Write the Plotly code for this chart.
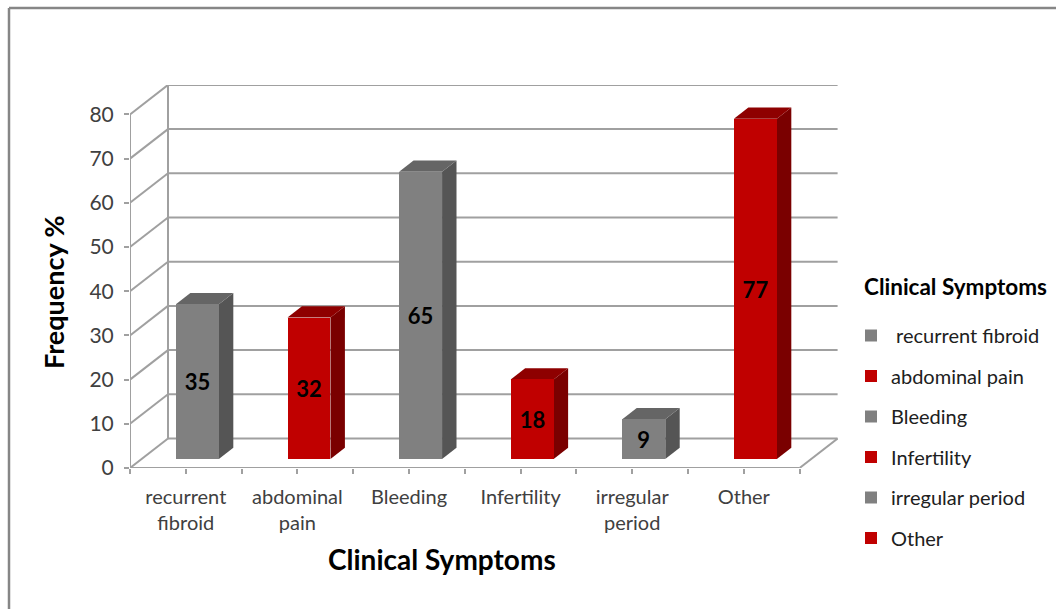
import plotly.graph_objects as go

# ---- data ----
categories = ["recurrent fibroid", "abdominal pain", "Bleeding", "Infertility",
              "irregular period", "Other"]
legend_names = [" recurrent fibroid", "abdominal pain", "Bleeding", "Infertility",
                "irregular period", "Other"]
tick_labels = ["recurrent<br>fibroid", "abdominal<br>pain", "Bleeding", "Infertility",
               "irregular<br>period", "Other"]
frequency = [35, 32, 65, 18, 9, 77]
y_ticks = [0, 10, 20, 30, 40, 50, 60, 70, 80]

# ---- styling ----
GRAY = dict(front="#808080", side="#555555", top="#656565")
RED = dict(front="#C00000", side="#7A0000", top="#8E0000")
palette = [GRAY, RED, GRAY, RED, GRAY, RED]
GRID = "#A0A0A0"
FONT = "Lato"

W, H = 1056, 609
ML, MR, MT, MB = 130, 218, 85, 141
PW, PH = W - ML - MR, H - MT - MB

CELL_PX = 111.6          # pixels per category
UNIT_PX = 4.42           # pixels per value unit
DEPTH_X, DEPTH_Y = 38.0, 29.5   # oblique depth of the chart box in pixels
DXu, DYu = DEPTH_X / CELL_PX, DEPTH_Y / UNIT_PX
X0 = -0.5
X_MAX = X0 + PW / CELL_PX
Y_MAX = PH / UNIT_PX

BAR_PLANE = 0.305        # depth fraction where bar fronts sit
BAR_DEPTH = 0.38         # bar depth as fraction of box depth
BAR_W = 0.385


def px_x(px):
    return (px - ML) / PW


def px_y(py):
    return (H - MB - py) / PH


fig = go.Figure()
shapes = []
line_style = dict(color=GRID, width=2)

# back wall horizontal gridlines and left wall diagonals
n_cat = len(categories)
for v in y_ticks:
    shapes.append(dict(type="line", xref="x", yref="y", layer="below",
                       x0=X0 + DXu, y0=v + DYu, x1=X0 + n_cat + DXu, y1=v + DYu,
                       line=line_style))
    shapes.append(dict(type="line", xref="x", yref="y", layer="below",
                       x0=X0, y0=v, x1=X0 + DXu, y1=v + DYu, line=line_style))
# back-left vertical edge
shapes.append(dict(type="line", xref="x", yref="y", layer="below",
                   x0=X0 + DXu, y0=DYu, x1=X0 + DXu, y1=y_ticks[-1] + DYu,
                   line=line_style))
# front vertical axis line
shapes.append(dict(type="line", xref="x", yref="y", layer="below",
                   x0=X0, y0=0, x1=X0, y1=y_ticks[-1], line=line_style))
# floor front edge and right edge
shapes.append(dict(type="line", xref="x", yref="y", layer="below",
                   x0=X0, y0=0, x1=X0 + n_cat, y1=0, line=line_style))
shapes.append(dict(type="line", xref="x", yref="y", layer="below",
                   x0=X0 + n_cat, y0=0, x1=X0 + n_cat + DXu, y1=DYu,
                   line=line_style))

# bar positions on their depth plane
bx_shift = BAR_PLANE * DXu
base = BAR_PLANE * DYu
ddx, ddy = BAR_DEPTH * DXu, BAR_DEPTH * DYu

for i, (name, val, col) in enumerate(zip(legend_names, frequency, palette)):
    xc = i + bx_shift
    xl, xr = xc - BAR_W / 2, xc + BAR_W / 2
    top = base + val
    # side face
    shapes.append(dict(type="path", xref="x", yref="y", layer="below",
                       path=f"M{xr},{base} L{xr + ddx},{base + ddy} "
                            f"L{xr + ddx},{top + ddy} L{xr},{top} Z",
                       fillcolor=col["side"], line=dict(width=0)))
    # top face
    shapes.append(dict(type="path", xref="x", yref="y", layer="below",
                       path=f"M{xl},{top} L{xr},{top} L{xr + ddx},{top + ddy} "
                            f"L{xl + ddx},{top + ddy} Z",
                       fillcolor=col["top"], line=dict(width=0)))
    fig.add_trace(go.Bar(
        x=[xc], y=[val], base=[base], width=[BAR_W], name=name,
        legendgroup=name,
        marker=dict(color=col["front"], line=dict(width=0)),
        text=[str(val)], textposition="inside", insidetextanchor="middle",
        textangle=0, constraintext="none",
        textfont=dict(family=FONT, size=22, color="black", weight="bold"),
        hovertemplate=f"{categories[i]}: %{{y}}<extra></extra>",
    ))

# outer frame of the chart area
shapes.append(dict(type="line", xref="paper", yref="paper",
                   x0=px_x(9), y0=px_y(8), x1=px_x(W + 5), y1=px_y(8),
                   line=dict(color="#868686", width=2.5)))
shapes.append(dict(type="line", xref="paper", yref="paper",
                   x0=px_x(9), y0=px_y(8), x1=px_x(9), y1=px_y(H + 5),
                   line=dict(color="#868686", width=2.5)))

annotations = [
    dict(text="<b>Frequency %</b>", textangle=-90, xref="paper", yref="paper",
         x=px_x(53), y=px_y(292), xanchor="center", yanchor="middle",
         showarrow=False, font=dict(family=FONT, size=27, color="black")),
    dict(text="<b>Clinical Symptoms</b>", xref="paper", yref="paper",
         x=px_x(442), y=px_y(559), xanchor="center", yanchor="middle",
         showarrow=False, font=dict(family=FONT, size=28, color="black")),
    dict(text="<b>Clinical Symptoms</b>", xref="paper", yref="paper",
         x=px_x(862), y=px_y(286), xanchor="left", yanchor="middle",
         showarrow=False, font=dict(family=FONT, size=22.5, color="black")),
]

fig.update_layout(
    width=W, height=H,
    margin=dict(l=ML, r=MR, t=MT, b=MB, pad=0, autoexpand=False),
    paper_bgcolor="white", plot_bgcolor="rgba(0,0,0,0)",
    shapes=shapes, annotations=annotations,
    bargap=0, barmode="overlay",
    showlegend=True,
    legend=dict(x=px_x(851), y=px_y(316), xanchor="left", yanchor="top",
                font=dict(family=FONT, size=20, color="#202020"),
                tracegroupgap=11.5, itemwidth=30,
                bgcolor="rgba(0,0,0,0)"),
    font=dict(family=FONT, color="#404040"),
)
fig.update_xaxes(
    range=[X0, X_MAX], showgrid=False, zeroline=False, showline=False,
    tickmode="array", tickvals=list(range(n_cat)), ticktext=tick_labels,
    ticks="outside", ticklen=5, tickcolor=GRID, tickwidth=2,
    minor=dict(tickmode="array", tickvals=[X0 + k for k in range(n_cat + 1)],
               ticks="outside", ticklen=5, tickcolor=GRID, tickwidth=2),
    tickfont=dict(family=FONT, size=20, color="#404040"),
    ticklabelstandoff=6, fixedrange=True,
)
fig.update_yaxes(
    range=[0, Y_MAX], showgrid=False, zeroline=False, showline=False,
    tickmode="array", tickvals=y_ticks,
    ticks="outside", ticklen=5, tickcolor=GRID, tickwidth=2,
    tickfont=dict(family=FONT, size=21, color="#404040"),
    ticklabelstandoff=6, fixedrange=True,
)

fig.write_html("out.html")
